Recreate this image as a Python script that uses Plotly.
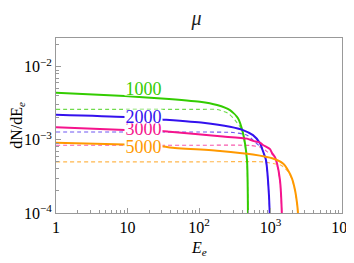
import plotly.graph_objects as go

# ---- data (E_e, dN/dE_e) ----
masses = ["1000", "2000", "3000", "5000"]

E_1000 = [1, 9.2, 30, 103, 179, 271, 351, 412, 469, 484, 500]
N_1000 = [4.40e-3, 3.97e-3, 3.69e-3, 3.32e-3, 2.99e-3, 2.55e-3, 1.98e-3, 1.24e-3, 5.27e-4, 1.0e-4, 1e-6]
E_1000d = [1, 10, 100, 179, 254, 319, 399, 439, 469, 484, 500]
N_1000d = [2.61e-3, 2.61e-3, 2.61e-3, 2.60e-3, 2.32e-3, 1.86e-3, 1.36e-3, 8.5e-4, 5.0e-4, 1.0e-4, 1e-6]

E_2000 = [1, 9.2, 30, 114, 271, 412, 569, 713, 785, 865, 923, 975, 1000]
N_2000 = [2.21e-3, 2.06e-3, 1.90e-3, 1.71e-3, 1.51e-3, 1.36e-3, 1.16e-3, 9.0e-4, 7.0e-4, 5.27e-4, 2.8e-4, 1.0e-4, 1e-6]
E_2000d = [1, 10, 100, 300, 469, 607, 760, 865, 923, 975, 1000]
N_2000d = [1.28e-3, 1.28e-3, 1.28e-3, 1.26e-3, 1.16e-3, 9.4e-4, 7.5e-4, 5.0e-4, 2.7e-4, 1.0e-4, 1e-6]

E_3000 = [1, 9.2, 30, 39, 197, 469, 569, 713, 785, 984, 1050, 1156, 1233, 1358, 1440, 1500]
N_3000 = [1.49e-3, 1.36e-3, 1.32e-3, 1.29e-3, 1.12e-3, 1.04e-3, 9.7e-4, 9.2e-4, 8.5e-4, 7.46e-4,
          6.6e-4, 5.8e-4, 4.8e-4, 2.8e-4, 1.0e-4, 1e-6]
E_3000d = [1, 10, 100, 517, 713, 785, 893, 1050, 1156, 1233, 1358, 1440, 1500]
N_3000d = [8.45e-4, 8.45e-4, 8.45e-4, 8.4e-4, 8.0e-4, 7.7e-4, 6.9e-4, 6.4e-4, 5.6e-4, 4.6e-4, 2.7e-4, 1.0e-4, 1e-6]

E_5000 = [1, 9.2, 30, 39, 197, 569, 1084, 1496, 1757, 2000, 2204, 2350, 2420, 2500]
N_5000 = [9.16e-4, 8.65e-4, 8.2e-4, 7.87e-4, 7.06e-4, 6.31e-4, 5.56e-4, 4.75e-4, 3.85e-4, 2.96e-4,
          2.05e-4, 1.36e-4, 1.0e-4, 1e-6]
E_5000d = [1, 10, 100, 785, 1084, 1400, 1757, 2000, 2204, 2350, 2420, 2500]
N_5000d = [5.0e-4, 5.0e-4, 5.0e-4, 5.0e-4, 4.75e-4, 4.5e-4, 3.7e-4, 2.9e-4, 2.0e-4, 1.3e-4, 1.0e-4, 1e-6]

x_tickvals = [1, 10, 100, 1000, 10000]
x_ticktext = ["1", "10", "10<sup>2</sup>", "10<sup>3</sup>", "10<sup>4</sup>"]
y_tickvals = [1e-4, 1e-3, 1e-2]
y_ticktext = ["10<sup>−4</sup>", "10<sup>−3</sup>", "10<sup>−2</sup>"]

colors = {"1000": "#33cc00", "2000": "#3311ee", "3000": "#f5148c", "5000": "#ff9900"}
dashed = {"1000": (E_1000d, N_1000d), "2000": (E_2000d, N_2000d),
          "3000": (E_3000d, N_3000d), "5000": (E_5000d, N_5000d)}
solid = {"1000": (E_1000, N_1000), "2000": (E_2000, N_2000),
         "3000": (E_3000, N_3000), "5000": (E_5000, N_5000)}

SERIF = "Liberation Serif, Times New Roman, serif"

fig = go.Figure()
for m in masses:
    ex, ny = dashed[m]
    fig.add_trace(go.Scatter(x=ex, y=ny, mode="lines", opacity=0.7,
                             line=dict(color=colors[m], width=1.1, dash="4px,3px", shape="spline", smoothing=0.6),
                             showlegend=False, hoverinfo="skip"))
for m in masses:
    ex, ny = solid[m]
    fig.add_trace(go.Scatter(x=ex, y=ny, mode="lines",
                             line=dict(color=colors[m], width=2, shape="spline", smoothing=0.6),
                             showlegend=False, hoverinfo="skip"))

label_pos = {"1000": -2.333, "2000": -2.723, "3000": -2.890, "5000": -3.127}
for m in ["5000", "3000", "2000", "1000"]:
    fig.add_annotation(x=1.224, y=label_pos[m], xref="x", yref="y", text=m, showarrow=False,
                       font=dict(family=SERIF, size=18, color=colors[m]),
                       bgcolor="white", borderpad=0, height=13, width=37, yshift=3)

# x-axis title placed as a paper annotation (below the tick labels)
fig.add_annotation(x=0.5, y=-0.205, xref="paper", yref="paper", text="<i>E</i><sub><i>e</i></sub>",
                   showarrow=False, xanchor="center", yanchor="middle",
                   font=dict(family=SERIF, size=16, color="black"))

axis_common = dict(showline=True, mirror=True, linecolor="#999999", linewidth=1,
                   ticks="inside", tickcolor="#999999", showgrid=False, zeroline=False,
                   automargin=False,
                   tickfont=dict(family=SERIF, size=16, color="black"))

fig.update_xaxes(type="log", range=[0, 4], tickvals=x_tickvals, ticktext=x_ticktext, ticklen=5,
                 minor=dict(ticks="inside", ticklen=3, tickcolor="#999999", dtick="D1"),
                 **axis_common)
fig.update_yaxes(type="log", range=[-4, -1.607], tickvals=y_tickvals, ticktext=y_ticktext, ticklen=5,
                 minor=dict(ticks="inside", ticklen=3, tickcolor="#999999", dtick="D1"),
                 title=dict(text="dN/dE<sub><i>e</i></sub>", font=dict(family=SERIF, size=16, color="black"),
                            standoff=0),
                 **axis_common)

# the page body adds an 8px offset, so the figure is sized to fit the window
fig.update_layout(width=346, height=255, margin=dict(l=48, r=12, t=30, b=50),
                  paper_bgcolor="white", plot_bgcolor="white",
                  title=dict(text="<i>μ</i>", x=0.545, xanchor="center", y=0.99, yanchor="top",
                             font=dict(family=SERIF, size=20, color="#222222")))

fig.write_html("out.html")
